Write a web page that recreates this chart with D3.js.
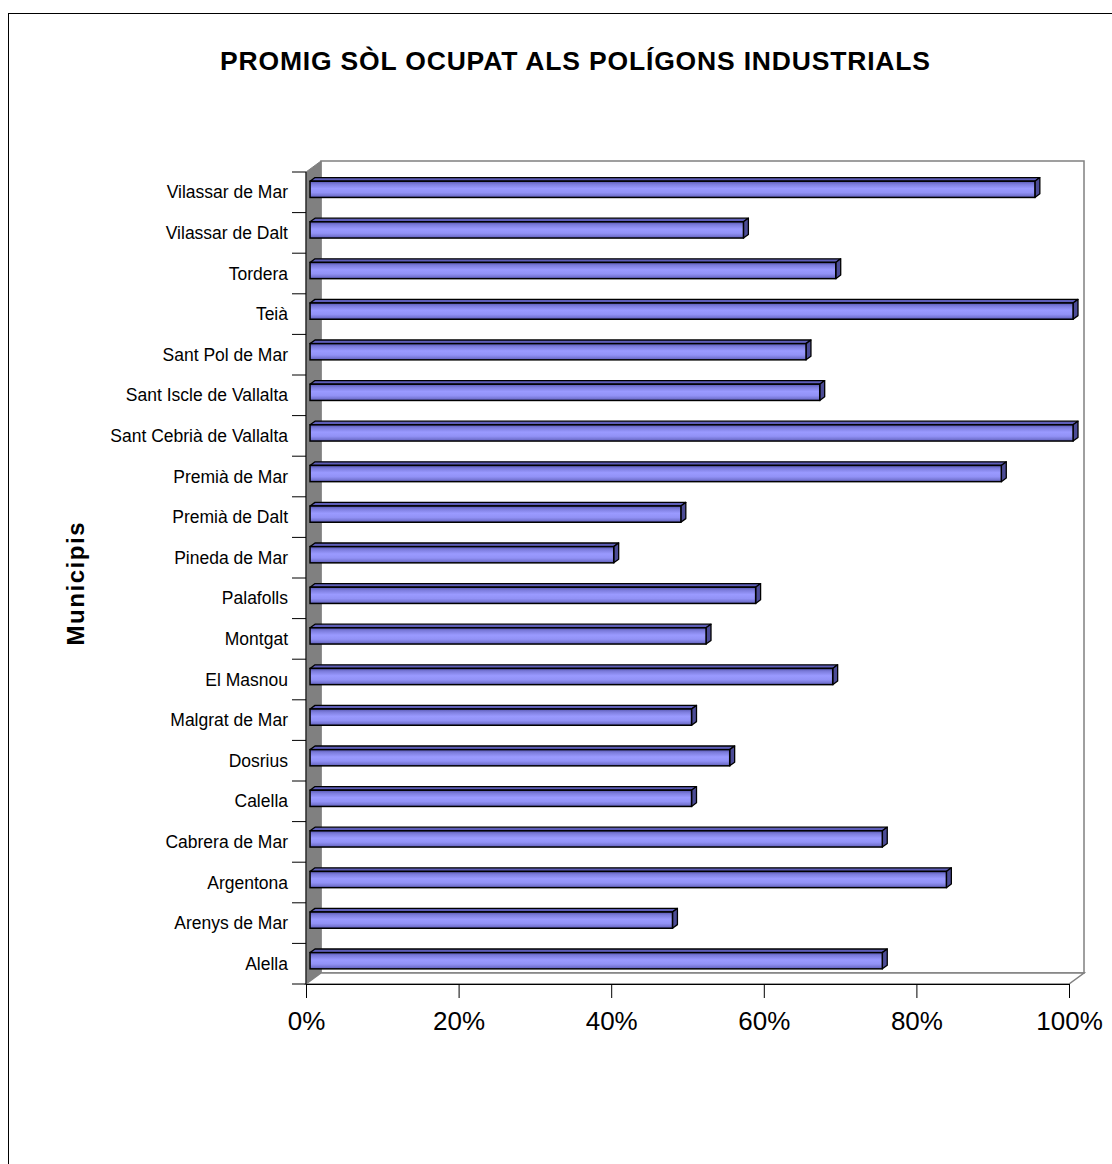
<!DOCTYPE html>
<html><head><meta charset="utf-8">
<script src="https://cdn.jsdelivr.net/npm/d3@7"></script>
<style>
body{margin:0;background:#fff}
svg{display:block}
text{font-family:Arial,"Liberation Sans",sans-serif;fill:#000}
</style></head>
<body><svg id="c" width="1112" height="1164"></svg>
<script>
const categories = ["Vilassar de Mar","Vilassar de Dalt","Tordera","Teià","Sant Pol de Mar","Sant Iscle de Vallalta","Sant Cebrià de Vallalta","Premià de Mar","Premià de Dalt","Pineda de Mar","Palafolls","Montgat","El Masnou","Malgrat de Mar","Dosrius","Calella","Cabrera de Mar","Argentona","Arenys de Mar","Alella"];
const values = [95,56.8,68.9,100,65,66.8,100,90.6,48.6,39.8,58.4,51.9,68.5,50,55,50,75,83.4,47.5,75];
const xTicks = [0,20,40,60,80,100];
const title = "PROMIG SÒL OCUPAT ALS POLÍGONS INDUSTRIALS";
const yTitle = "Municipis";

const svg = d3.select('#c');
const x = d3.scaleLinear().domain([0,100]).range([306,1069]);
const y = d3.scaleBand().domain(categories).range([172,984]).paddingInner(0.6).paddingOuter(0.3);
const DX = 15, DY = -11, zF = 0.27, zB = 0.6;
const P = (px,py,z) => [px + z*DX, py + z*DY];
const poly = pts => pts.map(p => p.join(',')).join(' ');

// outer border
svg.append('rect').attr('x',8.5).attr('y',13.5).attr('width',1300).attr('height',1300)
  .attr('fill','none').attr('stroke','#000').attr('stroke-width',1);

// gradient
const defs = svg.append('defs');
const g = defs.append('linearGradient').attr('id','fg').attr('x1',0).attr('y1',0).attr('x2',0).attr('y2',1);
[[0,'#5656b0'],[0.18,'#7c7cdc'],[0.45,'#9a9aff'],[0.7,'#9292f6'],[0.88,'#7676d4'],[1,'#5a5ab4']]
  .forEach(([o,c]) => g.append('stop').attr('offset',o).attr('stop-color',c));

const [x0,x1] = x.range(), [y0,y1] = y.range();
// back wall
const bw0 = P(x0,y0,1), bw1 = P(x1,y1,1);
svg.append('rect').attr('x',bw0[0]).attr('y',bw0[1]).attr('width',bw1[0]-bw0[0]).attr('height',bw1[1]-bw0[1])
  .attr('fill','#fff').attr('stroke','#808080').attr('stroke-width',1.5);
// left wall
svg.append('polygon').attr('points',poly([P(x0,y0,0),P(x0,y0,1),P(x0,y1,1),P(x0,y1,0)]))
  .attr('fill','#808080').attr('stroke','#808080').attr('stroke-width',1);
// floor
svg.append('polygon').attr('points',poly([P(x0,y1,0),P(x0,y1,1),P(x1,y1,1),P(x1,y1,0)]))
  .attr('fill','#fff').attr('stroke','#808080').attr('stroke-width',1.5);

// bars
const bh = y.bandwidth();
const bars = svg.append('g').selectAll('g').data(categories.map((c,i)=>({c,v:values[i]}))).join('g');
bars.append('polygon').attr('points',d=>{const a=x(0),b=x(d.v),t=y(d.c);
  return poly([P(a,t,zF),P(a,t,zB),P(b,t,zB),P(b,t,zF)]);})
  .attr('fill','#5e5eb8').attr('stroke','#000').attr('stroke-width',1.3).attr('stroke-linejoin','round');
bars.append('polygon').attr('points',d=>{const b=x(d.v),t=y(d.c);
  return poly([P(b,t,zF),P(b,t,zB),P(b,t+bh,zB),P(b,t+bh,zF)]);})
  .attr('fill','#4c4c96').attr('stroke','#000').attr('stroke-width',1.3).attr('stroke-linejoin','round');
bars.append('rect')
  .attr('x',d=>P(x(0),y(d.c),zF)[0]).attr('y',d=>P(x(0),y(d.c),zF)[1])
  .attr('width',d=>x(d.v)-x(0)).attr('height',bh)
  .attr('fill','url(#fg)').attr('stroke','#000').attr('stroke-width',1.5);

// y axis
svg.append('line').attr('x1',x0).attr('x2',x0).attr('y1',y0).attr('y2',y1).attr('stroke','#000').attr('stroke-width',1);
const bounds = categories.map(c => y(c) - y.step()*y.paddingOuter()).concat([y1]);
svg.append('g').selectAll('line').data(bounds).join('line')
  .attr('x1',x0-14).attr('x2',x0).attr('y1',d=>d).attr('y2',d=>d).attr('stroke','#000').attr('stroke-width',1);
svg.append('g').selectAll('text').data(categories).join('text')
  .attr('x',288).attr('y',c=>y(c)+bh/2).attr('dy','0.35em').attr('text-anchor','end')
  .style('font-size','17.5px').text(c=>c);

// x axis
const xa = svg.append('g').attr('transform',`translate(0,${y1})`)
  .call(d3.axisBottom(x).tickValues(xTicks).tickFormat(d=>d+'%').tickSize(14).tickSizeOuter(0).tickPadding(14));
xa.select('.domain').attr('stroke','#000').attr('stroke-width',1);
xa.selectAll('.tick line').attr('stroke','#000');
xa.selectAll('.tick text').style('font-size','26px').attr('fill','#000').style('font-family','Arial,"Liberation Sans",sans-serif');

// titles
svg.append('text').attr('x',575).attr('y',70).attr('text-anchor','middle')
  .style('font-size','26.5px').style('font-weight','bold')
  .attr('textLength',710).attr('lengthAdjust','spacing').text(title);
svg.append('text').attr('transform','translate(84,584) rotate(-90)').attr('text-anchor','middle')
  .style('font-size','24px').style('font-weight','bold')
  .attr('textLength',123).attr('lengthAdjust','spacing').text(yTitle);
</script></body></html>
